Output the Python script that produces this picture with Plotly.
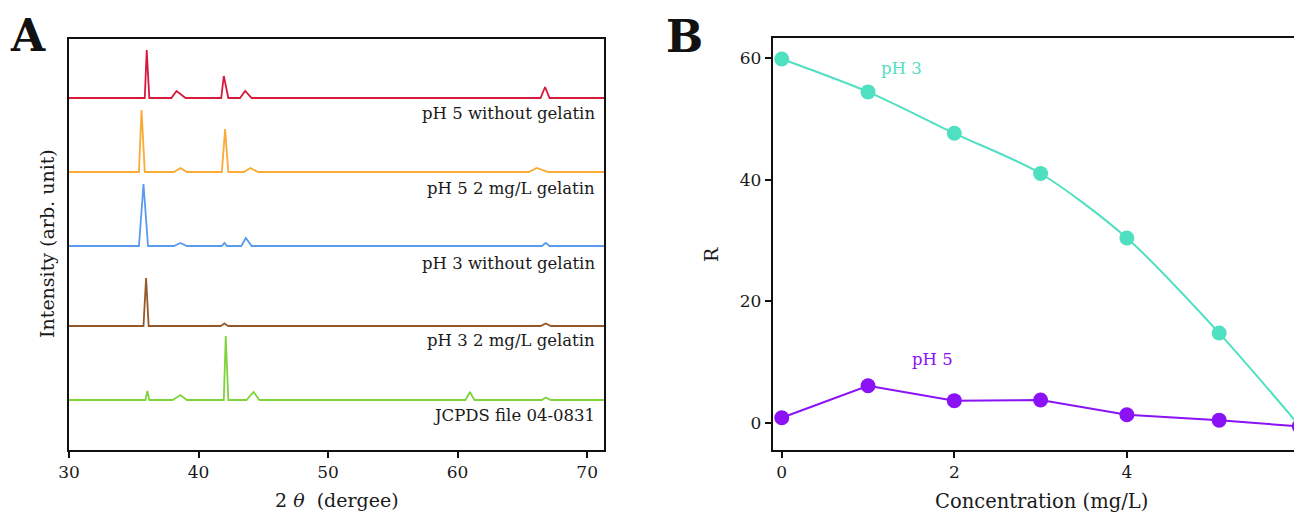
import plotly.graph_objects as go

# Page is offset by the default 8px body margin; size figure so it ends at the window edge
OFF = 8
FW, FH = 1302 - OFF, 513 - OFF
FONT = "DejaVu Serif"


def px(sx):
    return (sx - OFF) / FW


def py(sy):
    return 1 - (sy - OFF) / FH


# ---------- Panel A data (XRD patterns) ----------
red_x = [30, 35.85, 36.0, 36.2, 37.9, 38.3, 39.0, 41.75, 41.95, 42.3, 43.2, 43.6, 44.1, 66.4, 66.75, 67.1, 71.3]
red_y = [0, 0, 48, 0, 0, 7, 0, 0, 22, 0, 0, 7, 0, 0, 11, 0, 0]
orange_x = [30, 35.4, 35.6, 35.85, 38.1, 38.6, 39.1, 41.8, 42.05, 42.3, 43.5, 44.0, 44.6, 65.5, 66.1, 67.0, 71.3]
orange_y = [0, 0, 62, 0, 0, 4, 0, 0, 43, 0, 0, 4, 0, 0, 4, 0, 0]
blue_x = [30, 35.4, 35.75, 36.1, 38.1, 38.6, 39.1, 41.8, 42.0, 42.2, 43.3, 43.65, 44.1, 66.5, 66.8, 67.1, 71.3]
blue_y = [0, 0, 62, 0, 0, 3, 0, 0, 3, 0, 0, 8, 0, 0, 3, 0, 0]
brown_x = [30, 35.75, 35.95, 36.15, 41.7, 42.0, 42.3, 66.4, 66.8, 67.2, 71.3]
brown_y = [0, 0, 48, 0, 0, 2.5, 0, 0, 2.5, 0, 0]
green_x = [30, 35.9, 36.05, 36.2, 38.0, 38.6, 39.1, 41.95, 42.1, 42.3, 43.7, 44.25, 44.7, 60.6, 60.95, 61.3, 66.5, 66.8, 67.2, 71.3]
green_y = [0, 0, 9, 0, 0, 5, 0, 0, 64, 0, 0, 8, 0, 0, 8, 0, 0, 2.5, 0, 0]

pattern_labels = ["pH 5 without gelatin", "pH 5 2 mg/L gelatin", "pH 3 without gelatin",
                  "pH 3 2 mg/L gelatin", "JCPDS file 04-0831"]
offsets = [352, 278, 204, 124, 50]
label_y = [337, 262, 187, 110, 35]
xa_ticks = [30, 40, 50, 60, 70]

# ---------- Panel B data ----------
conc_ph3 = [0, 1, 2, 3, 4, 5.07, 6]
r_ph3 = [59.8, 54.4, 47.6, 41.0, 30.4, 14.8, -0.4]
conc_ph5 = [0, 1, 2, 3, 4, 5.07, 6]
r_ph5 = [0.9, 6.15, 3.7, 3.8, 1.4, 0.5, -0.55]
xb_ticks = [0, 2, 4, 6]
yb_ticks = [0, 20, 40, 60]

patterns = [(red_x, red_y, "#d7193a"), (orange_x, orange_y, "#f9ab35"),
            (blue_x, blue_y, "#5b9bee"), (brown_x, brown_y, "#94592a"),
            (green_x, green_y, "#7ed43a")]

fig = go.Figure()
for (xs, ys, col), off in zip(patterns, offsets):
    fig.add_trace(go.Scatter(x=xs, y=[v + off for v in ys], mode="lines",
                             line=dict(color=col, width=1.8), xaxis="x", yaxis="y",
                             showlegend=False, hoverinfo="skip"))

TEAL = "#4fe0c2"
PURPLE = "#8a12f5"
fig.add_trace(go.Scatter(x=conc_ph3, y=r_ph3, mode="lines+markers",
                         line=dict(color=TEAL, width=2, shape="spline", smoothing=0.8),
                         marker=dict(color=TEAL, size=15), xaxis="x2", yaxis="y2",
                         showlegend=False))
fig.add_trace(go.Scatter(x=conc_ph5, y=r_ph5, mode="lines+markers",
                         line=dict(color=PURPLE, width=2),
                         marker=dict(color=PURPLE, size=15), xaxis="x2", yaxis="y2",
                         showlegend=False))

TXT = "#1a1a1a"
annotations = []
for lab, ly in zip(pattern_labels, label_y):
    annotations.append(dict(x=70.75, y=ly, xref="x", yref="y", text=lab, showarrow=False,
                            xanchor="right", yanchor="middle",
                            font=dict(family=FONT, size=16.5, color=TXT)))
annotations += [
    dict(x=1.39, y=58.3, xref="x2", yref="y2", text="pH 3", showarrow=False,
         xanchor="center", yanchor="middle",
         font=dict(family=FONT, size=16.5, color=TEAL)),
    dict(x=1.75, y=10.4, xref="x2", yref="y2", text="pH 5", showarrow=False,
         xanchor="center", yanchor="middle",
         font=dict(family=FONT, size=16.5, color=PURPLE)),
    dict(x=px(28), y=py(35), xref="paper", yref="paper", text="<b>A</b>", showarrow=False,
         xanchor="center", yanchor="middle", font=dict(family=FONT, size=44, color="#111")),
    dict(x=px(684), y=py(36), xref="paper", yref="paper", text="<b>B</b>", showarrow=False,
         xanchor="center", yanchor="middle", font=dict(family=FONT, size=44, color="#111")),
    dict(x=px(337), y=py(500), xref="paper", yref="paper", text="2 <i>θ</i>  (dergee)",
         showarrow=False, xanchor="center", yanchor="middle",
         font=dict(family=FONT, size=19, color=TXT)),
    dict(x=px(47), y=py(244), xref="paper", yref="paper", text="Intensity (arb. unit)",
         showarrow=False, textangle=-90, xanchor="center", yanchor="middle",
         font=dict(family=FONT, size=19, color=TXT)),
    dict(x=px(1041), y=py(501), xref="paper", yref="paper", text="Concentration (mg/L)",
         showarrow=False, xanchor="center", yanchor="middle",
         font=dict(family=FONT, size=19.5, color=TXT)),
    dict(x=px(711), y=py(255), xref="paper", yref="paper", text="R",
         showarrow=False, textangle=-90, xanchor="center", yanchor="middle",
         font=dict(family=FONT, size=19, color=TXT)),
]

axis_common = dict(showline=True, mirror=True, linecolor="#111", linewidth=2,
                   showgrid=False, zeroline=False, ticklen=6, automargin=False,
                   tickwidth=2, tickcolor="#111", ticklabeloverflow="allow",
                   tickfont=dict(family=FONT, size=17, color=TXT))

fig.update_layout(
    template="none",
    width=FW, height=FH, margin=dict(l=0, r=0, t=0, b=0, pad=0), autosize=False,
    paper_bgcolor="white", plot_bgcolor="white",
    xaxis=dict(domain=[px(69), px(604)], range=[30, 71.3], tickvals=xa_ticks,
               anchor="y", ticks="outside", **axis_common),
    yaxis=dict(domain=[py(450), py(39)], range=[0, 411], showticklabels=False,
               anchor="x", ticks="", **axis_common),
    xaxis2=dict(domain=[px(772.7), 1.0], range=[-0.105, 6.03], tickvals=xb_ticks,
                anchor="y2", ticks="outside", **axis_common),
    yaxis2=dict(domain=[py(450), py(38.3)], range=[-4.4, 63.2], tickvals=yb_ticks,
                anchor="x2", ticks="outside", **axis_common),
    annotations=annotations,
)

fig.write_html("out.html")
